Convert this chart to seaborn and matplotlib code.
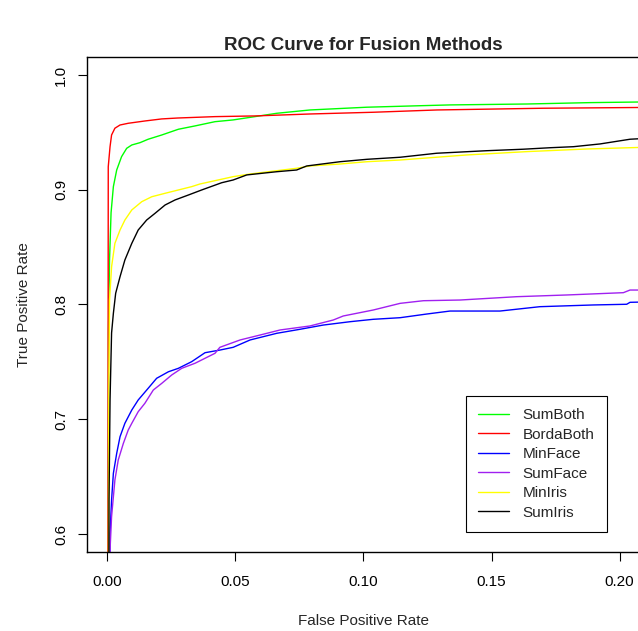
import matplotlib
matplotlib.use("Agg")
import matplotlib.pyplot as plt
from matplotlib.lines import Line2D
import pandas as pd
import seaborn as sns

# --- DATA ---

methods = ["SumBoth", "BordaBoth", "MinFace", "SumFace", "MinIris", "SumIris"]
colors = ["#00FF00", "#FF0000", "#0000FF", "#A020F0", "#FFFF00", "#000000"]

fpr_sumboth = [0.0, 0.0004, 0.0008, 0.0014, 0.0023, 0.0036, 0.0055, 0.0075, 0.0095, 0.0127,
               0.0159, 0.0212, 0.0277, 0.0342, 0.0420, 0.0490, 0.0576, 0.0661, 0.0791, 0.1013,
               0.1221, 0.1338, 0.1638, 0.1885, 0.2100]
tpr_sumboth = [0.0, 0.778, 0.839, 0.880, 0.9027, 0.9172, 0.9288, 0.9361, 0.9390, 0.9410,
               0.9440, 0.9477, 0.9527, 0.9556, 0.9593, 0.9608, 0.9637, 0.9666, 0.9695, 0.9719,
               0.9732, 0.9739, 0.9747, 0.9759, 0.9765]

fpr_bordaboth = [0.0, 0.0003, 0.0010, 0.0016, 0.0029, 0.0049, 0.0081, 0.0146, 0.0212, 0.0275,
                 0.0420, 0.0576, 0.0791, 0.1037, 0.1287, 0.1701, 0.2100]
tpr_bordaboth = [0.0, 0.920, 0.9375, 0.9477, 0.9536, 0.9564, 0.9579, 0.9599, 0.9617, 0.9625,
                 0.9637, 0.9643, 0.9660, 0.9675, 0.9695, 0.9710, 0.9717]

fpr_minface = [0.0, 0.0010, 0.0016, 0.0023, 0.0036, 0.0049, 0.0068, 0.0095, 0.0120, 0.0159,
               0.0192, 0.0238, 0.0277, 0.0329, 0.0381, 0.0439, 0.0491, 0.0557, 0.0661, 0.0752,
               0.0843, 0.0947, 0.1038, 0.1143, 0.1247, 0.1338, 0.1533, 0.1689, 0.1898, 0.2028,
               0.2041, 0.2100]
tpr_minface = [0.0, 0.6006, 0.6296, 0.6529, 0.6703, 0.6848, 0.6965, 0.7081, 0.7168, 0.7270,
               0.7357, 0.7414, 0.7444, 0.7502, 0.7580, 0.7603, 0.7627, 0.7691, 0.7749, 0.7784,
               0.7821, 0.7850, 0.7871, 0.7885, 0.7917, 0.7943, 0.7943, 0.7981, 0.7996, 0.8002,
               0.8019, 0.8022]

fpr_sumface = [0.0, 0.0010, 0.0016, 0.0029, 0.0042, 0.0062, 0.0081, 0.0095, 0.0120, 0.0146,
               0.0179, 0.0212, 0.0251, 0.0290, 0.0342, 0.0420, 0.0439, 0.0518, 0.0596, 0.0674,
               0.0791, 0.0882, 0.0921, 0.1038, 0.1143, 0.1234, 0.1377, 0.1598, 0.1794, 0.2015,
               0.2041, 0.2100]
tpr_sumface = [0.0, 0.5861, 0.6151, 0.6471, 0.6645, 0.6790, 0.6906, 0.6965, 0.7066, 0.7139,
               0.7255, 0.7313, 0.7386, 0.7444, 0.7488, 0.7575, 0.7627, 0.7691, 0.7734, 0.7778,
               0.7813, 0.7865, 0.7900, 0.7952, 0.8010, 0.8033, 0.8039, 0.8068, 0.8083, 0.8103,
               0.8126, 0.8126]

fpr_miniris = [0.0, 0.0005, 0.0008, 0.0016, 0.0029, 0.0049, 0.0068, 0.0095, 0.0134, 0.0173,
               0.0225, 0.0277, 0.0329, 0.0361, 0.0491, 0.0557, 0.0739, 0.0791, 0.0908, 0.1013,
               0.1143, 0.1403, 0.1638, 0.1872, 0.2100]
tpr_miniris = [0.0, 0.7168, 0.8039, 0.8329, 0.8533, 0.8649, 0.8736, 0.8824, 0.8896, 0.8939,
               0.8969, 0.8998, 0.9027, 0.9050, 0.9114, 0.9137, 0.9187, 0.9207, 0.9224, 0.9244,
               0.9259, 0.9303, 0.9332, 0.9355, 0.9370]

fpr_sumiris = [0.0, 0.0006, 0.0010, 0.0016, 0.0023, 0.0032, 0.0049, 0.0068, 0.0095, 0.0120,
               0.0153, 0.0186, 0.0225, 0.0264, 0.0316, 0.0368, 0.0446, 0.0491, 0.0544, 0.0661,
               0.0739, 0.0778, 0.0908, 0.1013, 0.1143, 0.1286, 0.1481, 0.1624, 0.1729, 0.1820,
               0.1924, 0.2041, 0.2100]
tpr_sumiris = [0.0, 0.6296, 0.7168, 0.7752, 0.7923, 0.8098, 0.8242, 0.8388, 0.8533, 0.8649,
               0.8736, 0.8795, 0.8867, 0.8911, 0.8954, 0.8998, 0.9061, 0.9085, 0.9129, 0.9157,
               0.9172, 0.9207, 0.9244, 0.9265, 0.9283, 0.9318, 0.9340, 0.9353, 0.9366, 0.9375,
               0.9399, 0.9440, 0.9447]

x_ticks = [0.00, 0.05, 0.10, 0.15, 0.20]
y_ticks = [0.6, 0.7, 0.8, 0.9, 1.0]

# --- LONG FORMAT FOR SEABORN ---

curves = {
    "SumBoth": (fpr_sumboth, tpr_sumboth),
    "BordaBoth": (fpr_bordaboth, tpr_bordaboth),
    "MinFace": (fpr_minface, tpr_minface),
    "SumFace": (fpr_sumface, tpr_sumface),
    "MinIris": (fpr_miniris, tpr_miniris),
    "SumIris": (fpr_sumiris, tpr_sumiris),
}
frames = []
for name, (fx, fy) in curves.items():
    frames.append(pd.DataFrame({"fpr": fx, "tpr": fy, "method": name}))
df = pd.concat(frames, ignore_index=True)

# --- PLOT ---

sns.set_style("ticks")
plt.rcParams["font.family"] = ["Liberation Sans", "DejaVu Sans"]

fig = plt.figure(figsize=(6.38, 6.31), dpi=100)
W, H = 638, 631
# plot region in pixels: left 87, right 640 (just off canvas), top 56.6, bottom 552.4
ax = fig.add_axes([87 / W, (H - 552.4) / H, (640 - 87) / W, (552.4 - 56.6) / H])

palette = dict(zip(methods, colors))
sns.lineplot(data=df, x="fpr", y="tpr", hue="method", palette=palette,
             sort=False, estimator=None, linewidth=1.0, legend=False, ax=ax)

ax.set_xlim(-0.008, 0.208)
ax.set_ylim(0.584, 1.016)
ax.set_xticks(x_ticks)
ax.set_xticklabels(["0.00", "0.05", "0.10", "0.15", "0.20"])
ax.set_yticks(y_ticks)
ax.set_yticklabels(["0.6", "0.7", "0.8", "0.9", "1.0"], rotation=90, va="center")

for s in ax.spines.values():
    s.set_color("black")
    s.set_linewidth(1.0)
ax.tick_params(axis="both", direction="out", length=6.5, width=0.8, color="black",
               labelsize=11, labelcolor="black")
ax.tick_params(axis="x", pad=10)
ax.tick_params(axis="y", pad=7)

ax.set_xlabel("False Positive Rate", fontsize=11, labelpad=18)
ax.set_ylabel("True Positive Rate", fontsize=11, labelpad=17)
# R centres the main title over the plot region, not the whole figure
fig.text(363.5 / W, 1 - 46 / H, "ROC Curve for Fusion Methods", ha="center", va="center",
         fontsize=13.5, fontweight="bold")

handles = [Line2D([0], [0], color=c, lw=1.0) for c in colors]
leg = ax.legend(handles, methods, loc="upper left",
                bbox_to_anchor=(466 / W, 1 - 396 / H), bbox_transform=fig.transFigure,
                borderaxespad=0, fancybox=False, framealpha=1, edgecolor="black",
                fontsize=11, handlelength=2.0, handletextpad=0.9, labelspacing=0.36,
                borderpad=0.8)
leg.get_frame().set_linewidth(0.8)

fig.savefig("out.png", dpi=100)
